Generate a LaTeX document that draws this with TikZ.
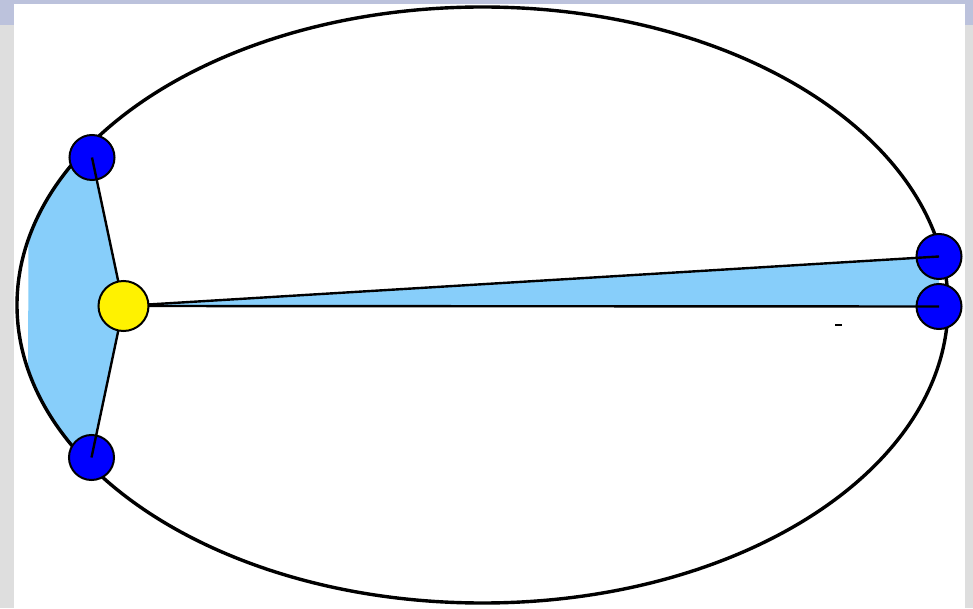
\documentclass[tikz,border=0pt]{standalone}
\usetikzlibrary{calc}

\definecolor{skyfill}{RGB}{135,206,250}
\definecolor{framegray}{RGB}{222,222,222}
\definecolor{framelav}{RGB}{188,194,220}

\begin{document}
\begin{tikzpicture}[x=1pt,y=1pt,
    planet/.style={circle,draw=black,line width=2pt,fill=blue,minimum size=45pt,inner sep=0pt},
    sunball/.style={circle,draw=black,line width=2pt,fill=yellow,minimum size=50pt,inner sep=0pt},
    orbit/.style={line width=3.4pt},
    ray/.style={line width=2.4pt}]

  \useasboundingbox (0,0) rectangle (973,608);

  % ========== Window frame ==========
  \fill[framegray] (0,0) rectangle (973,608);
  \fill[framelav] (0,583) rectangle (973,608);
  \fill[white] (14,0) rectangle (965,604);

  % ========== Positions ==========
  \coordinate (s) at (123.5,302);
  \coordinate (e) at (482.5,303);

  % ========== Swept areas ==========
  \begin{scope}
    \clip (s) -- ($(s)!3!(92,450.5)$) -- ($(s)!3!(91.5,150.5)$) -- cycle;
    \fill[skyfill] (e) ellipse[x radius=465.5, y radius=298];
  \end{scope}
  \fill[skyfill] (s) -- (939,351.5) -- (939,301.5) -- cycle;

  % ========== Orbit ==========
  \draw[orbit] (e) ellipse[x radius=465.5, y radius=298];

  % ========== Planets ==========
  \node[planet] (p1) at (92,450.5) {};
  \node[planet] (p2) at (91.5,150.5) {};
  \node[planet] (p3) at (939,351.5) {};
  \node[planet] (p4) at (939,301.5) {};

  % ========== Radius vectors ==========
  \draw[ray] (s) -- (p1.center);
  \draw[ray] (s) -- (p2.center);
  \draw[ray] (s) -- (p3.center);
  \draw[ray] (s) -- (p4.center);

  % stray mark
  \draw[line width=2pt] (835,283) -- (842,283);

  % ========== Sun ==========
  \node[sunball] (sun) at (s) {};

\end{tikzpicture}
\end{document}
